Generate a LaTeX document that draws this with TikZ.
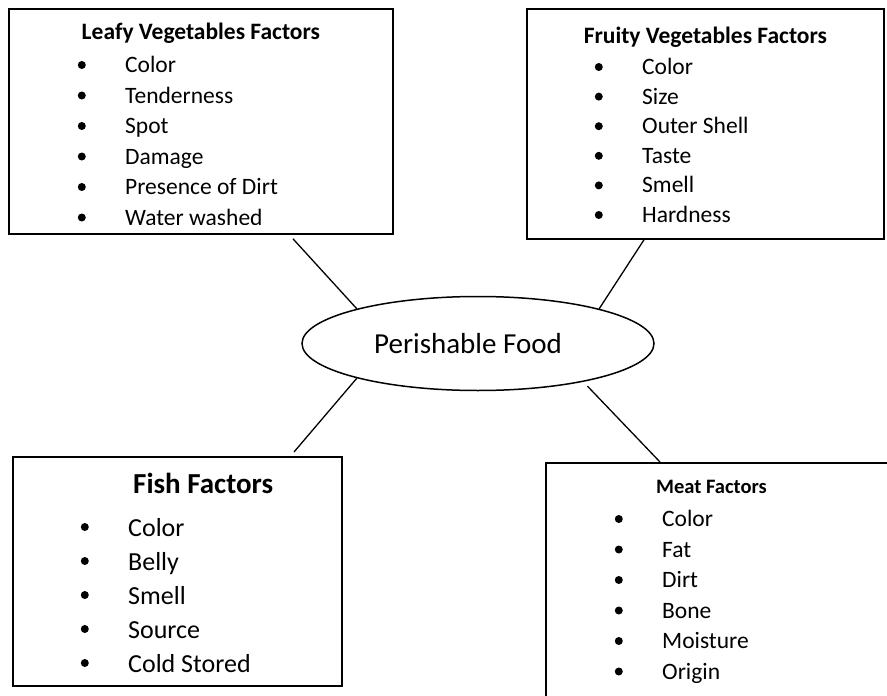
\documentclass[tikz,border=0pt]{standalone}
\usepackage{fontspec}
\setmainfont{Carlito}
\usetikzlibrary{shapes.geometric,positioning,calc}
\tikzset{factbox/.style={draw, line width=1.8pt, rectangle, anchor=north west, inner sep=0pt},
  head/.style={font=\fontsize{23.5}{28}\selectfont\bfseries, inner sep=0pt, anchor=base},
  item/.style={font=\fontsize{#1}{#1}\selectfont, inner sep=0pt, anchor=west,
    text height=18pt, text depth=3pt,
    label={[circle, fill, inner sep=0pt, minimum size=8pt, text height=0pt, text depth=0pt, label distance=39pt]left:{}}},
  item/.default=23.5,
  link/.style={draw, line width=1.3pt}}

\begin{document}
\begin{tikzpicture}[x=1pt, y=-1pt]
    \useasboundingbox (0,0) rectangle (887,696);
    \clip (0,0) rectangle (887,696);

            % the four boxes
            \node[factbox, minimum width=384pt, minimum height=225pt] (leafy) at (8,8) {};
            \node[factbox, minimum width=357pt, minimum height=230pt] (fruity) at (526,8) {};
            \node[factbox, minimum width=329pt, minimum height=229pt] (fish) at (12,456) {};
            \node[factbox, line width=2.2pt, minimum width=360pt, minimum height=250pt] (meat) at (545,462) {};

            \node[draw, ellipse, line width=1.5pt, minimum width=352pt, minimum height=94pt, inner sep=0pt,
                  font=\fontsize{29}{34}\selectfont] (food) at (478,343.5) {Perishable Food\kern20pt};

            \node[head] (leafyhead) at ([yshift=-31pt]leafy.north) {Leafy Vegetables Factors};
            \node[head] (fruityhead) at ([yshift=-35pt]fruity.north) {Fruity Vegetables Factors};
            \node[head, anchor=base west, font=\fontsize{29}{34}\selectfont\bfseries] (fishhead)
                  at ([shift={(121pt,-37pt)}]fish.north west) {Fish Factors};
            \node[head, anchor=base west, font=\fontsize{20.5}{24}\selectfont\bfseries] (meathead)
                  at ([shift={(111pt,-31pt)}]meat.north west) {Meat Factors};

            % last leafy line is cut off by the box
            \begin{scope}
            \clip (leafy.north west) rectangle ([yshift=10.8pt]leafy.south east);
            \foreach \t [count=\i] in {Color,Tenderness,Spot,Damage,Presence of Dirt,Water washed}
                \node[item] (leafy\i) at ([shift={(117pt,{-26.5pt-30.5pt*\i})}]leafy.north west) {\t};
            \end{scope}
            \foreach \t [count=\i] in {Color,Size,Outer Shell,Taste,Smell,Hardness}
                \node[item] (fruity\i) at ([shift={(116pt,{-29.4pt-29.6pt*\i})}]fruity.north west) {\t};
            \foreach \t [count=\i] in {Color,Belly,Smell,Source,Cold Stored}
                \node[item=26, text height=20pt, text depth=2pt] (fish\i) at ([shift={(116pt,{-37pt-34pt*\i})}]fish.north west) {\t};
            \foreach \t [count=\i] in {Color,Fat,Dirt,Bone,Moisture,Origin}
                \node[item] (meat\i) at ([shift={(117pt,{-26.5pt-30.5pt*\i})}]meat.north west) {\t};

            \draw[link] (food.164) -- ([shift={(285pt,-4pt)}]leafy.south west);
            \draw[link] (food.16) -- ([xshift=118pt]fruity.south west);
            \draw[link] (food.196) -- ([shift={(282pt,4pt)}]fish.north west);
            \draw[link, shorten <=6pt] (food.340) -- ([xshift=115pt]meat.north west);

\end{tikzpicture}
\end{document}
